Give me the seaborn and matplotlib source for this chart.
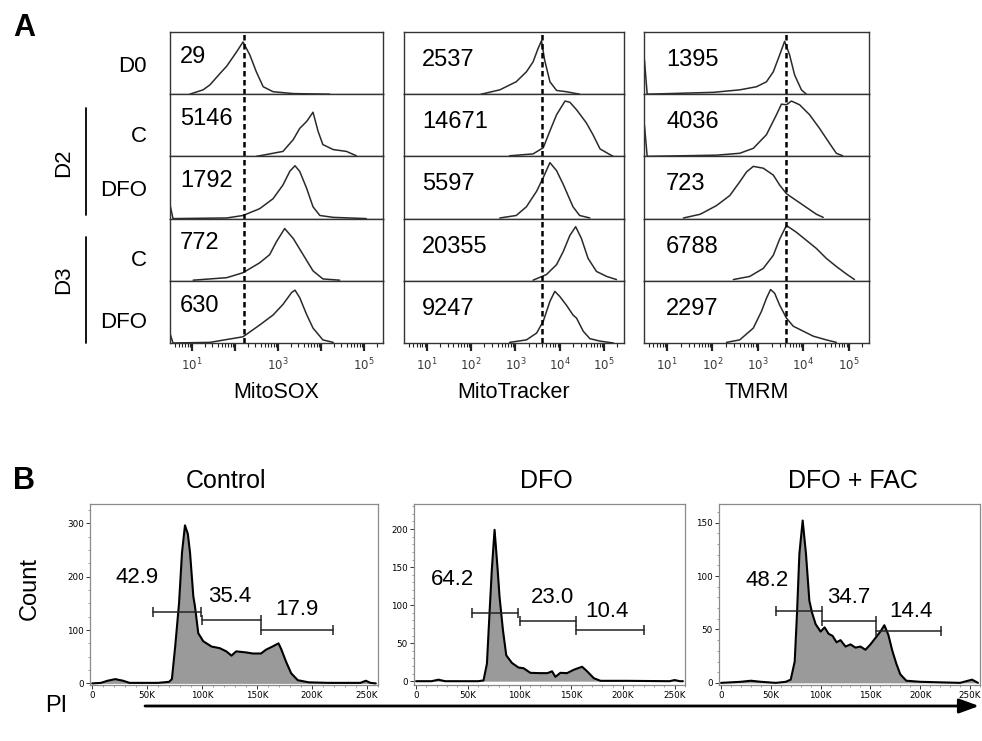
import numpy as np
import pandas as pd
import seaborn as sns
import matplotlib.pyplot as plt
from matplotlib.ticker import FixedLocator, LogLocator, MultipleLocator, NullFormatter

# Figure size in pixels (dpi 100)
W, H = 982, 741

# ## Panel A data: histograms on a log axis (log10 intensity, fraction of mode)

stains = ["MitoSOX", "MitoTracker", "TMRM"]
row_labels = ["D0", "C", "DFO", "C", "DFO"]
group_labels = ["D2", "D3"]
mfi = [
    ["29", "5146", "1792", "772", "630"],
    ["2537", "14671", "5597", "20355", "9247"],
    ["1395", "4036", "723", "6788", "2297"],
]
# D0 reference (dashed line) per stain
ref_line = [162, 3980, 4070]

mitosox_logx = [
    [0.95, 1.26, 1.42, 1.65, 1.81, 2.04, 2.19, 2.35, 2.50, 2.66, 2.89, 3.36, 4.21],
    [2.50, 3.12, 3.36, 3.51, 3.67, 3.82, 3.94, 4.05, 4.29, 4.60, 4.83],
    [0.50, 0.56, 1.81, 2.19, 2.58, 2.89, 3.12, 3.28, 3.40, 3.51, 3.67, 3.82, 3.98, 4.29, 5.06],
    [1.03, 1.81, 2.19, 2.58, 2.81, 2.97, 3.16, 3.36, 3.59, 3.82, 4.05, 4.44],
    [0.50, 0.56, 1.42, 2.19, 2.58, 2.89, 3.12, 3.32, 3.40, 3.51, 3.67, 3.82, 4.05, 4.29],
]
mitosox_y = [
    [0.00, 0.07, 0.15, 0.33, 0.45, 0.68, 0.84, 0.63, 0.36, 0.12, 0.04, 0.01, 0.00],
    [0.00, 0.08, 0.27, 0.45, 0.56, 0.71, 0.40, 0.19, 0.11, 0.08, 0.01],
    [0.19, 0.00, 0.01, 0.05, 0.16, 0.32, 0.54, 0.76, 0.85, 0.76, 0.49, 0.19, 0.05, 0.02, 0.00],
    [0.01, 0.05, 0.13, 0.29, 0.42, 0.63, 0.84, 0.68, 0.42, 0.16, 0.03, 0.01],
    [0.13, 0.00, 0.01, 0.10, 0.29, 0.45, 0.62, 0.81, 0.85, 0.73, 0.46, 0.24, 0.05, 0.01],
]

mitotracker_logx = [
    [2.23, 2.65, 3.02, 3.25, 3.40, 3.51, 3.59, 3.66, 3.78, 3.93, 4.15, 4.45],
    [2.87, 3.40, 3.63, 3.78, 3.93, 4.12, 4.23, 4.38, 4.60, 4.75, 4.91, 5.13, 5.21],
    [2.65, 3.02, 3.25, 3.48, 3.63, 3.78, 3.93, 4.08, 4.30, 4.45, 4.68],
    [3.40, 3.70, 3.93, 4.08, 4.23, 4.36, 4.49, 4.64, 4.83, 5.06, 5.28],
    [2.87, 3.25, 3.48, 3.63, 3.78, 3.89, 4.00, 4.15, 4.30, 4.38, 4.53, 4.68, 4.91, 5.21],
]
mitotracker_y = [
    [0.00, 0.07, 0.20, 0.36, 0.52, 0.73, 0.86, 0.55, 0.20, 0.06, 0.04, 0.00],
    [0.01, 0.04, 0.14, 0.41, 0.67, 0.89, 0.87, 0.75, 0.54, 0.35, 0.12, 0.03, 0.00],
    [0.01, 0.05, 0.19, 0.44, 0.66, 0.90, 0.77, 0.55, 0.19, 0.05, 0.01],
    [0.01, 0.10, 0.26, 0.47, 0.73, 0.87, 0.68, 0.36, 0.15, 0.07, 0.02],
    [0.01, 0.05, 0.16, 0.35, 0.67, 0.83, 0.75, 0.61, 0.45, 0.40, 0.19, 0.07, 0.03, 0.00],
]

tmrm_logx = [
    [0.50, 0.56, 2.02, 2.60, 2.97, 3.19, 3.34, 3.48, 3.59, 3.70, 3.81, 3.96, 4.07],
    [0.50, 0.56, 2.09, 2.60, 2.90, 3.19, 3.41, 3.52, 3.63, 3.74, 3.92, 4.14, 4.36, 4.58, 4.73, 4.87],
    [1.36, 1.73, 2.09, 2.38, 2.60, 2.75, 2.90, 3.12, 3.34, 3.48, 3.63, 3.85, 4.07, 4.29, 4.44],
    [2.46, 2.82, 3.12, 3.34, 3.48, 3.63, 3.85, 4.07, 4.29, 4.51, 4.73, 4.95, 5.13],
    [2.31, 2.60, 2.90, 3.08, 3.19, 3.28, 3.37, 3.48, 3.63, 3.78, 4.00, 4.22, 4.51, 4.73],
]
tmrm_y = [
    [0.55, 0.00, 0.03, 0.07, 0.12, 0.20, 0.36, 0.63, 0.85, 0.63, 0.31, 0.07, 0.00],
    [0.50, 0.00, 0.02, 0.05, 0.13, 0.35, 0.67, 0.84, 0.83, 0.89, 0.83, 0.67, 0.45, 0.21, 0.05, 0.01],
    [0.01, 0.07, 0.21, 0.37, 0.59, 0.75, 0.84, 0.81, 0.70, 0.54, 0.40, 0.29, 0.18, 0.07, 0.02],
    [0.02, 0.07, 0.20, 0.41, 0.67, 0.89, 0.78, 0.65, 0.52, 0.36, 0.23, 0.11, 0.02],
    [0.01, 0.05, 0.24, 0.51, 0.72, 0.86, 0.80, 0.61, 0.40, 0.27, 0.19, 0.11, 0.05, 0.01],
]

# ## Panel B data: PI cell cycle histograms (PI in thousands, counts)

pi_titles = ["Control", "DFO", "DFO + FAC"]

ctrl_k = [0, 8, 14, 21, 28, 34, 60, 70, 72.5, 75.5, 79, 81.7, 84.4, 87, 89, 92, 93.5, 96.5, 101,
          108.6, 116, 122, 126.7, 131, 140, 146, 153.6, 158, 164, 169.5, 172, 176.5, 181, 187,
          197, 215, 244, 249, 253, 258]
ctrl_count = [0, 1, 5, 8, 5, 1, 1, 3, 8, 69, 150, 245, 296, 280, 245, 163, 144, 94, 79,
              69, 66, 60, 52, 60, 58, 56, 56, 63, 69, 75, 64, 40, 19, 6,
              2, 1, 1, 5, 1, 0]

dfo_k = [0, 15, 21.6, 28, 60, 65.2, 68.5, 71, 73.3, 75.9, 78.8, 80.7, 84, 87.2, 92.7, 99, 104,
         110.5, 120, 127, 131.5, 134.7, 139.5, 146, 152.4, 160.5, 165.4, 171.8, 178.3, 204,
         245, 250, 255, 258]
dfo_count = [0, 0, 2, 0, 0, 1, 23, 89, 148, 199, 148, 111, 67, 34, 24, 18, 17,
             11, 10.6, 10.6, 13, 5.7, 11, 10.6, 15, 19, 13, 4, 0.5, 0.5,
             0, 1.5, 0, 0]

fac_k = [0, 20, 30, 40, 55, 65, 70, 74, 76.3, 78.7, 82, 85.3, 88.7, 91.3, 95, 100, 104, 108,
         112, 116, 120, 125, 130, 135, 140, 145, 150, 155, 160, 164, 168, 172, 176, 180, 186,
         200, 240, 248, 252, 258]
fac_count = [0, 1, 2, 1, 0, 1, 3, 20, 65, 121, 152, 121, 77, 66, 55, 48, 52, 46,
             44, 38, 40, 34, 36, 33, 34, 31, 36, 42, 48, 54, 45, 30, 18, 8, 2,
             1, 0, 2, 3, 0]

# Gates (start, end in K) with their level (counts) and percentages
gate_bounds = [
    [(55, 99), (100, 154), (154, 219)],
    [(54, 99), (100, 155), (155, 220)],
    [(55, 101), (101, 156), (156, 221)],
]
gate_levels = [[134, 118, 100], [90, 79, 67], [67, 58, 49]]
gate_pcts = [["42.9", "35.4", "17.9"], ["64.2", "23.0", "10.4"], ["48.2", "34.7", "14.4"]]

# Label anchors for the gate percentages (data coords)
pct_pos = [
    [(40.7, 198), (125, 162), (186, 139)],
    [(34.9, 134), (131.5, 110), (185, 92)],
    [(46.3, 96), (128.7, 80), (191, 67)],
]

# ## Build long data frames

rows = []
for s, (lx, ly) in zip(stains, [(mitosox_logx, mitosox_y), (mitotracker_logx, mitotracker_y), (tmrm_logx, tmrm_y)]):
    for r in range(5):
        for x, y in zip(lx[r], ly[r]):
            rows.append({"stain": s, "row": r, "intensity": 10 ** x, "height": y})
df_a = pd.DataFrame(rows)

df_b = pd.concat([
    pd.DataFrame({"sample": pi_titles[0], "PI": ctrl_k, "count": ctrl_count}),
    pd.DataFrame({"sample": pi_titles[1], "PI": dfo_k, "count": dfo_count}),
    pd.DataFrame({"sample": pi_titles[2], "PI": fac_k, "count": fac_count}),
])

# ## Style

sns.set_style("white")
plt.rcParams['font.family'] = ['Liberation Sans', 'DejaVu Sans']
plt.rcParams['mathtext.fontset'] = 'dejavusans'
plt.rcParams['text.color'] = 'black'
plt.rcParams['axes.labelcolor'] = 'black'
plt.rcParams['xtick.color'] = 'black'
plt.rcParams['ytick.color'] = 'black'


def box(l, t, r, b):
    return [l / W, 1 - b / H, (r - l) / W, (b - t) / H]


fig = plt.figure(figsize=(W / 100, H / 100), dpi=100)

# ## Panel A

col_l = [170, 404, 644]
col_r = [383, 624, 869]
row_t = [32, 94.2, 156.4, 218.6, 280.8]
row_h = 62.2
num_dx = [0.047, 0.082, 0.098]
num_dy = [0.60, 0.55, 0.55]

for c, s in enumerate(stains):
    for r in range(5):
        ax = fig.add_axes(box(col_l[c], row_t[r], col_r[c], row_t[r] + row_h))
        ax.set_xscale('log')
        ax.set_xlim(10 ** 0.49, 10 ** 5.45)
        ax.set_ylim(0, 1)
        sub = df_a[(df_a["stain"] == s) & (df_a["row"] == r)]
        sns.lineplot(data=sub, x="intensity", y="height", ax=ax, color="#2a2a2a",
                     lw=1.1, estimator=None)
        ax.axvline(ref_line[c], color="black", lw=1.8, ls=(0, (2.2, 1.4)))
        ax.set_xlabel("")
        ax.set_ylabel("")
        for sp in ax.spines.values():
            sp.set_color("#333333")
            sp.set_linewidth(1.0)
        ax.text(num_dx[c], num_dy[c], mfi[c][r], transform=ax.transAxes,
                fontsize=17, va="center", ha="left", color="black")
        ax.set_yticks([])
        if r < 4:
            ax.tick_params(which="both", bottom=False, labelbottom=False)
        else:
            ax.xaxis.set_major_locator(FixedLocator([1e1, 1e2, 1e3, 1e4, 1e5]))
            ax.xaxis.set_minor_locator(LogLocator(base=10, subs=np.arange(2, 10)))
            ax.xaxis.set_minor_formatter(NullFormatter())
            if c == 0:
                labels = [r"$10^{1}$", "", r"$10^{3}$", "", r"$10^{5}$"]
            else:
                labels = [r"$10^{1}$", r"$10^{2}$", r"$10^{3}$", r"$10^{4}$", r"$10^{5}$"]
            ax.set_xticklabels(labels)
            ax.tick_params(axis="x", which="major", direction="out", bottom=True, length=6,
                           width=1.6, labelsize=8.5, pad=4, colors="#222222", labelcolor="#3a3a3a")
            ax.tick_params(axis="x", which="minor", direction="out", bottom=True, length=3,
                           width=0.8, colors="#222222")

# ## Panel B

b_l = [90, 414, 719]
b_r = [378, 685, 980]
b_t, b_b = 504, 685
b_ylim = [(-3, 336), (-5, 233), (-2, 167.5)]
b_major = [100, 50, 50]
b_minor = [25, 10, 10]

for i, name in enumerate(pi_titles):
    ax = fig.add_axes(box(b_l[i], b_t, b_r[i], b_b))
    sub = df_b[df_b["sample"] == name]
    ax.fill_between(sub["PI"], sub["count"], color="#9a9a9a", lw=0)
    sns.lineplot(data=sub, x="PI", y="count", ax=ax, color="black", lw=1.5, estimator=None)
    ax.set_xlim(-2, 260)
    ax.set_ylim(*b_ylim[i])
    ax.set_xlabel("")
    ax.set_ylabel("")
    for sp in ax.spines.values():
        sp.set_color("#8a8a8a")
        sp.set_linewidth(0.9)
    ax.xaxis.set_major_locator(FixedLocator([0, 50, 100, 150, 200, 250]))
    ax.set_xticklabels(["0", "50K", "100K", "150K", "200K", "250K"])
    ax.xaxis.set_minor_locator(MultipleLocator(10))
    ax.yaxis.set_major_locator(MultipleLocator(b_major[i]))
    ax.yaxis.set_minor_locator(MultipleLocator(b_minor[i]))
    ax.tick_params(which="major", direction="out", bottom=True, left=True, length=3, width=0.7,
                   labelsize=6.3, pad=1.5, labelfontfamily="DejaVu Sans", colors="#333333",
                   labelcolor="black")
    ax.tick_params(which="minor", direction="out", bottom=True, left=True, length=1.5,
                   width=0.5, colors="#777777")
    for (g0, g1), lev in zip(gate_bounds[i], gate_levels[i]):
        ax.plot([g0, g1], [lev, lev], color="#222222", lw=1.1, marker="|",
                markersize=7, markeredgewidth=1.1)
    for (px, py), txt in zip(pct_pos[i], gate_pcts[i]):
        ax.text(px, py, txt, fontsize=16, ha="center", va="center", color="black")

# ## Overlay for labels, brackets and arrow

ov = fig.add_axes([0, 0, 1, 1])
ov.set_xlim(0, W)
ov.set_ylim(H, 0)
ov.axis("off")

ov.text(24, 28, "A", fontsize=22, fontweight="bold", ha="center", va="center")
ov.text(24, 481, "B", fontsize=22, fontweight="bold", ha="center", va="center")

row_label_y = [67, 137, 191, 260, 322]
for lab, y in zip(row_labels, row_label_y):
    ov.text(147, y, lab, fontsize=16, ha="right", va="center")

ov.plot([86, 86], [108, 215], color="black", lw=1.3)
ov.plot([86, 86], [237, 343], color="black", lw=1.3)
ov.text(63.5, 163, group_labels[0], fontsize=16, rotation=90, ha="center", va="center")
ov.text(63.5, 280, group_labels[1], fontsize=16, rotation=90, ha="center", va="center")

for c, s in enumerate(stains):
    ov.text((col_l[c] + col_r[c]) / 2, 393, s, fontsize=15.5, ha="center", va="center")

title_x = [226, 546, 853]
for x, t in zip(title_x, pi_titles):
    ov.text(x, 481, t, fontsize=18, ha="center", va="center")

ov.text(30, 588, "Count", fontsize=17, rotation=90, ha="center", va="center")
ov.text(56, 706, "PI", fontsize=17, ha="center", va="center")
ov.annotate("", xy=(979, 706), xytext=(145, 706),
            arrowprops=dict(arrowstyle="-|>,head_length=0.6,head_width=0.22",
                            lw=2, color="black", mutation_scale=20, shrinkA=0, shrinkB=0))

fig.savefig("out.png", dpi=100)
